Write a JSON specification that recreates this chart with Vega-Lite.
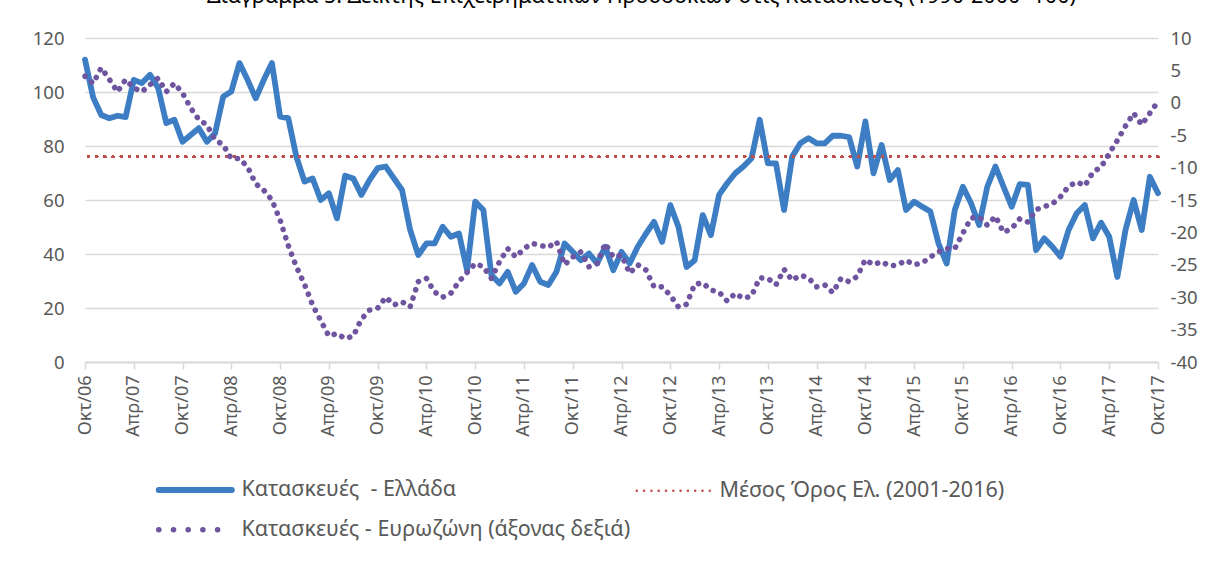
{
  "$schema": "https://vega.github.io/schema/vega-lite/v6.json",
  "autosize": "none",
  "width": 1073,
  "height": 324,
  "padding": {"left": 85, "top": 38, "right": 67, "bottom": 205},
  "background": "white",
  "title": {"text": "Διάγραμμα 5: Δείκτης Επιχειρηματικών Προσδοκιών στις Κατασκευές (1990-2000=100)", "fontSize": 21.5, "font": "Noto Sans", "fontWeight": "normal", "color": "#000000", "anchor": "middle", "offset": 22, "dx": 20},
  "data": {"values": [
    {"m":"Οκτ/06","gr":112,"ez":4.1},{"m":"Νοε/06","gr":98,"ez":3.0},{"m":"Δεκ/06","gr":91.5,"ez":5.4},
    {"m":"Ιαν/07","gr":90.3,"ez":3.6},{"m":"Φεβ/07","gr":91.2,"ez":1.7},{"m":"Μαρ/07","gr":90.7,"ez":3.6},{"m":"Απρ/07","gr":104.5,"ez":2.3},{"m":"Μαϊ/07","gr":103.3,"ez":1.7},{"m":"Ιουν/07","gr":106.4,"ez":2.8},{"m":"Ιουλ/07","gr":101.5,"ez":3.8},{"m":"Αυγ/07","gr":88.5,"ez":1.7},{"m":"Σεπ/07","gr":89.7,"ez":3.0},{"m":"Οκτ/07","gr":81.6,"ez":1.5},{"m":"Νοε/07","gr":84.1,"ez":-0.8},{"m":"Δεκ/07","gr":86.6,"ez":-2.6},
    {"m":"Ιαν/08","gr":81.6,"ez":-3.4},{"m":"Φεβ/08","gr":84.7,"ez":-5.7},{"m":"Μαρ/08","gr":98.3,"ez":-6.5},{"m":"Απρ/08","gr":100.2,"ez":-8.6},{"m":"Μαϊ/08","gr":110.7,"ez":-8.6},{"m":"Ιουν/08","gr":104.5,"ez":-9.9},{"m":"Ιουλ/08","gr":97.7,"ez":-12.5},{"m":"Αυγ/08","gr":104.5,"ez":-13.5},{"m":"Σεπ/08","gr":110.7,"ez":-15},{"m":"Οκτ/08","gr":90.9,"ez":-18.1},{"m":"Νοε/08","gr":90.3,"ez":-22},{"m":"Δεκ/08","gr":76.1,"ez":-25.3},
    {"m":"Ιαν/09","gr":66.8,"ez":-28},{"m":"Φεβ/09","gr":68,"ez":-31.2},{"m":"Μαρ/09","gr":60,"ez":-33.6},{"m":"Απρ/09","gr":62.5,"ez":-36},{"m":"Μαϊ/09","gr":53.2,"ez":-35.6},{"m":"Ιουν/09","gr":69,"ez":-36.4},{"m":"Ιουλ/09","gr":68,"ez":-36},{"m":"Αυγ/09","gr":61.9,"ez":-33.4},{"m":"Σεπ/09","gr":67.4,"ez":-32},{"m":"Οκτ/09","gr":71.8,"ez":-31.7},{"m":"Νοε/09","gr":72.4,"ez":-30},{"m":"Δεκ/09","gr":68,"ez":-31.2},
    {"m":"Ιαν/10","gr":63.7,"ez":-30.7},{"m":"Φεβ/10","gr":48.9,"ez":-31.5},{"m":"Μαρ/10","gr":39.6,"ez":-27.6},{"m":"Απρ/10","gr":43.9,"ez":-27.1},{"m":"Μαϊ/10","gr":43.9,"ez":-29.2},{"m":"Ιουν/10","gr":50.1,"ez":-30},{"m":"Ιουλ/10","gr":46.4,"ez":-29.4},{"m":"Αυγ/10","gr":47.6,"ez":-27.6},{"m":"Σεπ/10","gr":34,"ez":-26.2},{"m":"Οκτ/10","gr":59.4,"ez":-24.8},{"m":"Νοε/10","gr":56.3,"ez":-25.3},{"m":"Δεκ/10","gr":32.2,"ez":-27.1},
    {"m":"Ιαν/11","gr":29.1,"ez":-24.5},{"m":"Φεβ/11","gr":33.4,"ez":-22.5},{"m":"Μαρ/11","gr":26,"ez":-23.8},{"m":"Απρ/11","gr":29.1,"ez":-22.5},{"m":"Μαϊ/11","gr":35.9,"ez":-21.7},{"m":"Ιουν/11","gr":29.7,"ez":-22},{"m":"Ιουλ/11","gr":28.5,"ez":-22.3},{"m":"Αυγ/11","gr":33.4,"ez":-21.4},{"m":"Σεπ/11","gr":43.9,"ez":-25},{"m":"Οκτ/11","gr":40.8,"ez":-23.8},{"m":"Νοε/11","gr":37.7,"ez":-23},{"m":"Δεκ/11","gr":40.2,"ez":-25.3},
    {"m":"Ιαν/12","gr":36.5,"ez":-24.8},{"m":"Φεβ/12","gr":42.7,"ez":-21.7},{"m":"Μαρ/12","gr":34,"ez":-23.8},{"m":"Απρ/12","gr":40.8,"ez":-23.5},{"m":"Μαϊ/12","gr":36.5,"ez":-26.3},{"m":"Ιουν/12","gr":42.7,"ez":-25},{"m":"Ιουλ/12","gr":47.5,"ez":-25.8},{"m":"Αυγ/12","gr":51.9,"ez":-28.4},{"m":"Σεπ/12","gr":44.5,"ez":-28.4},{"m":"Οκτ/12","gr":58.1,"ez":-29.7},{"m":"Νοε/12","gr":50.1,"ez":-31.5},{"m":"Δεκ/12","gr":35.2,"ez":-31.1},
    {"m":"Ιαν/13","gr":37.7,"ez":-28},{"m":"Φεβ/13","gr":54.4,"ez":-27.8},{"m":"Μαρ/13","gr":47,"ez":-28.9},{"m":"Απρ/13","gr":61.9,"ez":-29.2},{"m":"Μαϊ/13","gr":66.2,"ez":-30.6},{"m":"Ιουν/13","gr":69.9,"ez":-29.4},{"m":"Ιουλ/13","gr":72.4,"ez":-30.2},{"m":"Αυγ/13","gr":75.5,"ez":-29.8},{"m":"Σεπ/13","gr":89.7,"ez":-27},{"m":"Οκτ/13","gr":73.6,"ez":-27.1},{"m":"Νοε/13","gr":73.6,"ez":-28.1},{"m":"Δεκ/13","gr":56.3,"ez":-25.7},
    {"m":"Ιαν/14","gr":76.1,"ez":-27.4},{"m":"Φεβ/14","gr":81,"ez":-26.6},{"m":"Μαρ/14","gr":82.9,"ez":-27},{"m":"Απρ/14","gr":81,"ez":-28.4},{"m":"Μαϊ/14","gr":81,"ez":-28.1},{"m":"Ιουν/14","gr":83.8,"ez":-29.3},{"m":"Ιουλ/14","gr":83.8,"ez":-27.1},{"m":"Αυγ/14","gr":83.3,"ez":-27.6},{"m":"Σεπ/14","gr":72.4,"ez":-26.8},{"m":"Οκτ/14","gr":89.1,"ez":-24.2},{"m":"Νοε/14","gr":69.9,"ez":-25},{"m":"Δεκ/14","gr":80.4,"ez":-24.5},
    {"m":"Ιαν/15","gr":67.4,"ez":-25.2},{"m":"Φεβ/15","gr":71.1,"ez":-25},{"m":"Μαρ/15","gr":56.3,"ez":-24.3},{"m":"Απρ/15","gr":59.4,"ez":-25},{"m":"Μαϊ/15","gr":57.5,"ez":-24.7},{"m":"Ιουν/15","gr":55.7,"ez":-23.8},{"m":"Ιουλ/15","gr":43.9,"ez":-23},{"m":"Αυγ/15","gr":36.5,"ez":-22.5},{"m":"Σεπ/15","gr":56.3,"ez":-22.5},{"m":"Οκτ/15","gr":64.9,"ez":-20.1},{"m":"Νοε/15","gr":58.8,"ez":-17.8},{"m":"Δεκ/15","gr":50.7,"ez":-17.6},
    {"m":"Ιαν/16","gr":64.9,"ez":-18.9},{"m":"Φεβ/16","gr":72.4,"ez":-17.5},{"m":"Μαρ/16","gr":64.9,"ez":-20},{"m":"Απρ/16","gr":57.5,"ez":-19.4},{"m":"Μαϊ/16","gr":65.9,"ez":-17.9},{"m":"Ιουν/16","gr":65.6,"ez":-18.4},{"m":"Ιουλ/16","gr":41.4,"ez":-16.5},{"m":"Αυγ/16","gr":45.8,"ez":-16},{"m":"Σεπ/16","gr":42.7,"ez":-15.6},{"m":"Οκτ/16","gr":39,"ez":-14.5},{"m":"Νοε/16","gr":48.9,"ez":-12.9},{"m":"Δεκ/16","gr":55.1,"ez":-12.2},
    {"m":"Ιαν/17","gr":58.1,"ez":-12.8},{"m":"Φεβ/17","gr":45.8,"ez":-10.7},{"m":"Μαρ/17","gr":51.6,"ez":-9.9},{"m":"Απρ/17","gr":46.4,"ez":-7.8},{"m":"Μαϊ/17","gr":31.5,"ez":-5.8},{"m":"Ιουν/17","gr":48.9,"ez":-3.6},{"m":"Ιουλ/17","gr":60,"ez":-1.6},{"m":"Αυγ/17","gr":48.9,"ez":-3.4},{"m":"Σεπ/17","gr":68.6,"ez":-1.6},{"m":"Οκτ/17","gr":62.5,"ez":0.2}
  ]},
  "layer": [
    {
      "mark": {"type": "line", "strokeWidth": 5.8, "strokeJoin": "round", "strokeCap": "round"},
      "encoding": {
        "x": {"field": "m", "type": "ordinal", "sort": null, "scale": {"type": "point", "padding": 0},
          "axis": {"orient": "bottom", "title": null, "values": ["Οκτ/06","Απρ/07","Οκτ/07","Απρ/08","Οκτ/08","Απρ/09","Οκτ/09","Απρ/10","Οκτ/10","Απρ/11","Οκτ/11","Απρ/12","Οκτ/12","Απρ/13","Οκτ/13","Απρ/14","Οκτ/14","Απρ/15","Οκτ/15","Απρ/16","Οκτ/16","Απρ/17","Οκτ/17"],
            "labelAngle": -90, "labelFontSize": 18, "labelColor": "#595959", "labelPadding": 6, "tickSize": 7, "tickColor": "#d9d9d9", "tickWidth": 1.5, "domainColor": "#d9d9d9", "domainWidth": 2, "grid": false}},
        "y": {"field": "gr", "type": "quantitative", "scale": {"domain": [0, 120], "nice": false},
          "axis": {"title": null, "values": [0, 20, 40, 60, 80, 100, 120], "grid": true, "gridColor": "#d9d9d9", "gridWidth": 1.3, "domain": false, "ticks": false, "labelPadding": 21, "labelFontSize": 18.5, "labelColor": "#595959"}},
        "color": {"datum": "Κατασκευές\u00a0 - Ελλάδα", "type": "nominal",
          "scale": {"domain": ["Κατασκευές\u00a0 - Ελλάδα", "Μέσος Όρος Ελ. (2001-2016)", "Κατασκευές - Ευρωζώνη (άξονας δεξιά)"], "range": ["#3c7dc4", "#c0504d", "#6f55a0"]},
          "legend": {"values": ["Κατασκευές\u00a0 - Ελλάδα", "Κατασκευές - Ευρωζώνη (άξονας δεξιά)", "Μέσος Όρος Ελ. (2001-2016)"],
            "orient": "none", "legendX": 73, "legendY": 441, "columns": 2, "title": null, "labelFontSize": 21.5, "labelColor": "#595959", "labelLimit": 600, "symbolType": "M-1,0H6.3", "symbolSize": 400, "labelOffset": 62, "rowPadding": 16, "columnPadding": 0, "padding": 0,
            "encode": {"symbols": {"update": {
              "strokeWidth": {"signal": "datum.value === 'Μέσος Όρος Ελ. (2001-2016)' ? 2.5 : datum.value === 'Κατασκευές - Ευρωζώνη (άξονας δεξιά)' ? 5.5 : 6"},
              "strokeDash": {"signal": "datum.value === 'Μέσος Όρος Ελ. (2001-2016)' ? [0.1, 7.2] : datum.value === 'Κατασκευές - Ευρωζώνη (άξονας δεξιά)' ? [0.1, 14.6] : [1, 0]"},
              "strokeCap": {"value": "round"},
              "fill": {"value": "transparent"}
            }}}}}
      }
    },
    {
      "mark": {"type": "rule", "strokeWidth": 2.6, "strokeDash": [0.1, 8], "strokeCap": "round"},
      "encoding": {
        "y": {"datum": 76, "type": "quantitative", "scale": {"domain": [0, 120], "nice": false}, "axis": null},
        "color": {"datum": "Μέσος Όρος Ελ. (2001-2016)", "type": "nominal",
          "scale": {"domain": ["Κατασκευές\u00a0 - Ελλάδα", "Μέσος Όρος Ελ. (2001-2016)", "Κατασκευές - Ευρωζώνη (άξονας δεξιά)"], "range": ["#3c7dc4", "#c0504d", "#6f55a0"]}}
      }
    },
    {
      "mark": {"type": "line", "strokeWidth": 5.6, "strokeDash": [0.1, 8.6], "strokeCap": "round"},
      "encoding": {
        "x": {"field": "m", "type": "ordinal", "sort": null, "scale": {"type": "point", "padding": 0},
          "axis": {"orient": "bottom", "title": null, "values": ["Οκτ/06","Απρ/07","Οκτ/07","Απρ/08","Οκτ/08","Απρ/09","Οκτ/09","Απρ/10","Οκτ/10","Απρ/11","Οκτ/11","Απρ/12","Οκτ/12","Απρ/13","Οκτ/13","Απρ/14","Οκτ/14","Απρ/15","Οκτ/15","Απρ/16","Οκτ/16","Απρ/17","Οκτ/17"],
            "labelAngle": -90, "labelFontSize": 18, "labelColor": "#595959", "labelPadding": 6, "tickSize": 7, "tickColor": "#d9d9d9", "tickWidth": 1.5, "domainColor": "#d9d9d9", "domainWidth": 2, "grid": false}},
        "y": {"field": "ez", "type": "quantitative", "scale": {"domain": [-40, 10], "nice": false},
          "axis": {"orient": "right", "title": null, "values": [-40, -35, -30, -25, -20, -15, -10, -5, 0, 5, 10], "labelExpr": "'' + datum.value", "grid": false, "domain": false, "ticks": false, "labelPadding": 12, "labelFontSize": 18.5, "labelColor": "#595959"}},
        "color": {"datum": "Κατασκευές - Ευρωζώνη (άξονας δεξιά)", "type": "nominal",
          "scale": {"domain": ["Κατασκευές\u00a0 - Ελλάδα", "Μέσος Όρος Ελ. (2001-2016)", "Κατασκευές - Ευρωζώνη (άξονας δεξιά)"], "range": ["#3c7dc4", "#c0504d", "#6f55a0"]}}
      }
    }
  ],
  "resolve": {"scale": {"y": "independent"}},
  "config": {
    "view": {"stroke": null},
    "font": "Noto Sans",
    "axis": {"labelFont": "Noto Sans"},
    "legend": {"labelFont": "Noto Sans"}
  }
}
